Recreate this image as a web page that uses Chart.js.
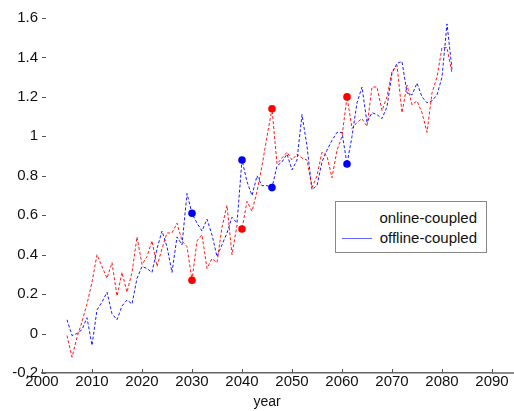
<!DOCTYPE html>
<html>
<head>
<meta charset="utf-8">
<script src="https://cdn.jsdelivr.net/npm/chart.js@4/dist/chart.umd.min.js"></script>
<style>
  html, body { margin: 0; padding: 0; background: #fff; }
  #wrap { position: relative; width: 514px; height: 411px; font-family: "Liberation Sans", Arial, sans-serif; }
  #legend { position: absolute; left: 335px; top: 201px; width: 152px; height: 52px; box-sizing: border-box; border: 1px solid #888; background: #fff; font-size: 15px; color: #111; }
  .row { position: absolute; right: 9px; height: 17px; line-height: 17px; white-space: nowrap; }
  .sample { position: absolute; left: 6px; width: 30px; height: 0; border-top: 1px solid #6666ff; }
</style>
</head>
<body>
<div id="wrap">
  <canvas id="c" width="514" height="411"></canvas>
  <div id="legend">
    <div class="row" id="l1" style="top:7px"></div>
    <div class="sample" style="top:36px"></div>
    <div class="row" id="l2" style="top:27px"></div>
  </div>
</div>
<script>
const years = [2005,2006,2007,2008,2009,2010,2011,2012,2013,2014,2015,2016,2017,2018,2019,2020,
  2021,2022,2023,2024,2025,2026,2027,2028,2029,2030,2031,2032,2033,2034,2035,2036,2037,2038,2039,2040,
  2041,2042,2043,2044,2045,2046,2047,2048,2049,2050,2051,2052,2053,2054,2055,2056,2057,2058,2059,2060,
  2061,2062,2063,2064,2065,2066,2067,2068,2069,2070,2071,2072,2073,2074,2075,2076,2077,2078,2079,2080,
  2081,2082];

const onlineCoupled = [-0.01,-0.12,-0.02,0.06,0.15,0.26,0.40,0.34,0.28,0.36,0.19,0.31,0.21,0.31,0.49,0.35,
  0.39,0.47,0.34,0.43,0.51,0.51,0.56,0.47,0.44,0.27,0.47,0.50,0.33,0.38,0.36,0.54,0.65,0.40,0.55,0.53,
  0.67,0.62,0.72,0.85,1.00,1.14,0.86,0.89,0.92,0.88,0.91,0.89,0.88,0.74,0.80,0.92,0.90,0.79,0.93,1.00,
  1.20,1.04,1.07,1.09,1.05,1.25,1.25,1.13,1.20,1.33,1.36,1.12,1.26,1.16,1.18,1.12,1.02,1.22,1.30,1.45,
  1.45,1.32];

const offlineCoupled = [0.07,-0.01,0.00,0.02,0.08,-0.06,0.12,0.16,0.21,0.10,0.07,0.14,0.17,0.15,0.28,0.34,
  0.33,0.31,0.43,0.52,0.44,0.31,0.49,0.45,0.71,0.61,0.56,0.52,0.58,0.50,0.39,0.45,0.51,0.59,0.56,0.88,
  0.77,0.70,0.80,0.75,0.75,0.74,0.85,0.87,0.91,0.83,0.88,1.11,0.95,0.73,0.75,0.87,0.93,0.98,1.02,1.02,
  0.86,1.00,1.17,1.25,1.07,1.12,1.11,1.09,1.15,1.32,1.37,1.38,1.22,1.21,1.27,1.20,1.17,1.18,1.21,1.30,
  1.57,1.34];

const markerYears = [2030, 2040, 2046, 2061];
const seriesNames = ["online-coupled", "offline-coupled"];
const xTicks = [2000,2010,2020,2030,2040,2050,2060,2070,2080,2090];
const yTicks = [-0.2,0,0.2,0.4,0.6,0.8,1,1.2,1.4,1.6];

document.getElementById('l1').textContent = seriesNames[0];
document.getElementById('l2').textContent = seriesNames[1];

const FONT = "'Liberation Sans', Arial, sans-serif";

const toPts = arr => years.map((y, i) => ({ x: y, y: arr[i] }));
const markerRadius = ctx => (ctx.raw && markerYears.includes(ctx.raw.x)) ? 3.8 : 0;

const axisDecor = {
  id: 'axisDecor',
  afterDatasetsDraw(chart) {
    const { ctx, chartArea, scales, width } = chart;
    ctx.save();
    ctx.strokeStyle = '#555';
    ctx.lineWidth = 1;
    yTicks.forEach(v => {
      const y = Math.round(scales.y.getPixelForValue(v)) + 0.5;
      ctx.beginPath();
      ctx.moveTo(chartArea.left, y);
      ctx.lineTo(chartArea.left + 4, y);
      ctx.stroke();
    });
    xTicks.forEach(v => {
      const x = Math.round(scales.x.getPixelForValue(v)) + 0.5;
      ctx.beginPath();
      ctx.moveTo(x, chartArea.bottom);
      ctx.lineTo(x, chartArea.bottom - 4);
      ctx.stroke();
    });
    // bottom axis line continues to the right edge as in the reference
    ctx.strokeStyle = '#666';
    ctx.lineWidth = 1.5;
    ctx.beginPath();
    ctx.moveTo(chartArea.right, chartArea.bottom);
    ctx.lineTo(width, chartArea.bottom);
    ctx.stroke();
    ctx.restore();
  }
};

new Chart(document.getElementById('c'), {
  type: 'line',
  data: {
    datasets: [
      {
        label: seriesNames[0],
        data: toPts(onlineCoupled),
        borderColor: 'rgba(255,0,0,0.9)',
        backgroundColor: '#ff0000',
        borderWidth: 1,
        borderDash: [3, 2],
        pointRadius: markerRadius,
        pointBorderWidth: 0,
        tension: 0,
        fill: false
      },
      {
        label: seriesNames[1],
        data: toPts(offlineCoupled),
        borderColor: 'rgba(0,0,255,0.9)',
        backgroundColor: '#0000ff',
        borderWidth: 1,
        borderDash: [3, 2],
        pointRadius: markerRadius,
        pointBorderWidth: 0,
        tension: 0,
        fill: false
      }
    ]
  },
  options: {
    responsive: false,
    animation: false,
    layout: { padding: { left: 0, right: 22, top: 18, bottom: 0 } },
    plugins: { legend: { display: false }, tooltip: { enabled: false } },
    scales: {
      x: {
        type: 'linear',
        min: 2000, max: 2090,
        afterBuildTicks: axis => { axis.ticks = xTicks.map(v => ({ value: v })); },
        afterFit: axis => { axis.height = 38; },
        grid: { display: false, drawTicks: false },
        border: { display: true, color: '#666', width: 1.5 },
        ticks: { color: '#111', font: { family: FONT, size: 15 }, padding: 0, maxRotation: 0, callback: v => String(v) },
        title: { display: true, text: 'year', color: '#111', font: { family: FONT, size: 14 }, padding: { top: 0, bottom: 0 } }
      },
      y: {
        type: 'linear',
        min: -0.2, max: 1.6,
        afterBuildTicks: axis => { axis.ticks = yTicks.map(v => ({ value: v })); },
        afterFit: axis => { axis.width = 42; },
        grid: { display: false, drawTicks: false },
        border: { display: false },
        ticks: { color: '#111', font: { family: FONT, size: 15 }, padding: 4, callback: v => String(Math.round(v * 10) / 10) }
      }
    }
  },
  plugins: [axisDecor]
});
</script>
</body>
</html>
